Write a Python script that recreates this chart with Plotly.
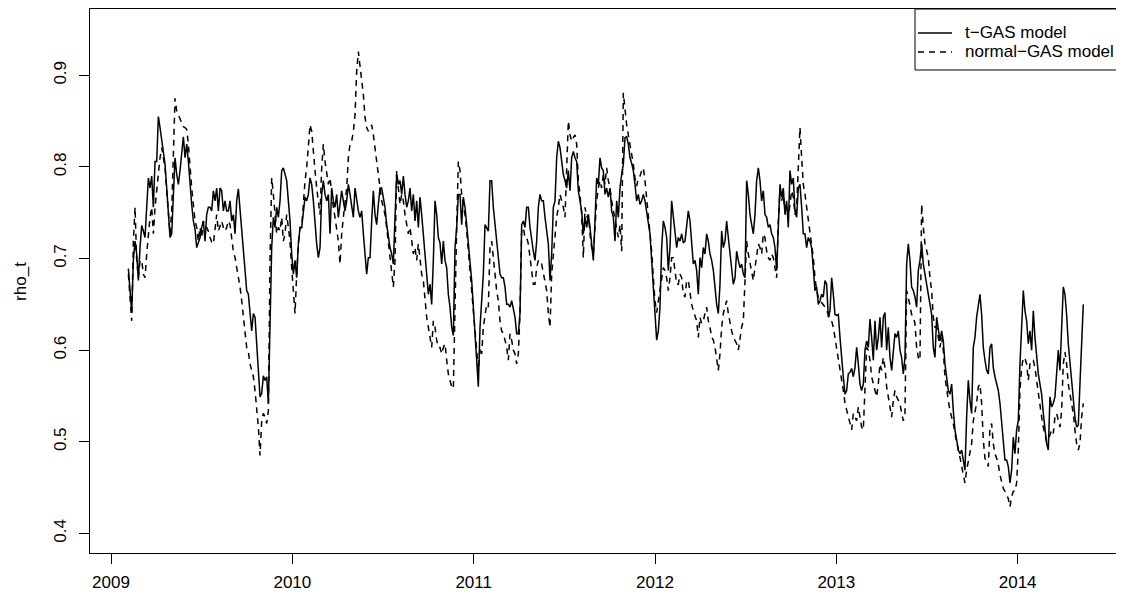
import numpy as np
import plotly.graph_objects as go

start_year = 2009.0956
step = 0.009191  # years between samples

t_gas = [
    .689, .661, .641, .698, .719, .705, .676, .712, .736, .730,
    .723, .756, .788, .777, .790, .756, .806, .806, .855, .843,
    .828, .815, .803, .777, .750, .723, .727, .777, .810, .792,
    .781, .796, .817, .833, .810, .825, .806, .777, .759, .741,
    .732, .712, .719, .723, .734, .741, .719, .748, .756, .756,
    .752, .774, .763, .777, .752, .777, .774, .752, .763, .752,
    .752, .763, .741, .748, .727, .763, .776, .752, .737, .712,
    .687, .665, .661, .640, .621, .640, .636, .607, .574, .549,
    .553, .572, .567, .571, .542,
    .643, .712, .745, .734, .756, .745, .763, .796, .799, .792,
    .785, .763, .741, .705, .683, .698, .679, .716, .734, .734,
    .752, .767, .763, .770, .788, .781, .763, .734, .716, .701,
    .712, .770, .785, .770, .763, .770, .727, .777, .763, .756,
    .770, .745, .759, .774, .763, .752, .763, .781, .770, .759,
    .745, .777, .763, .752, .745, .752, .727, .701, .683, .701,
    .701, .741, .774, .748, .737, .759, .777, .777, .767, .756,
    .737, .723, .712, .705, .694, .745, .792, .781, .785, .770,
    .790, .770, .756, .763, .777, .752, .770, .741, .763, .734,
    .767, .748, .727, .701, .683, .661, .672, .650, .698, .763,
    .748, .723,
    .717, .694, .719, .698, .690, .661, .647, .625, .616, .712,
    .734, .770, .770, .737, .767, .756, .737, .719, .701, .676,
    .647, .618, .581, .560, .625, .650, .683, .737, .734, .730,
    .785, .785, .756, .737, .716, .698, .683, .679, .679, .669,
    .650, .650, .647, .654, .643, .636, .618, .618, .640, .737,
    .741, .734, .756, .756, .734, .719, .708, .698, .719, .756,
    .770, .763, .763, .745, .727, .716, .676, .705, .756, .763,
    .810, .828, .821, .803, .792, .785, .777, .796, .774, .810,
    .817, .810, .806, .774, .763, .752, .727, .745, .734, .748,
    .734, .719, .698, .741, .788, .781, .810, .799, .796, .770,
    .777, .767,
    .777, .752, .745, .719, .763, .745, .777, .792, .803, .832,
    .833, .825, .810, .804, .796, .781, .763, .770, .759, .763,
    .770, .763, .752, .737, .727, .698, .665, .636, .611, .621,
    .647, .712, .741, .734, .723, .687, .712, .763, .745, .727,
    .712, .723, .719, .727, .717, .719, .737, .752, .741, .716,
    .694, .698, .687, .661, .701, .690, .712, .705, .727, .719,
    .705, .698, .687, .669, .650, .640, .672, .730, .712, .719,
    .741, .723, .705, .690, .672, .679, .708, .698, .690, .694,
    .683, .679, .785, .770, .748, .737, .727, .748, .785, .799,
    .785, .763, .774, .748, .745, .734, .737, .727, .723, .712,
    .687, .734,
    .781, .767, .777, .748, .763, .734, .796, .781, .788, .752,
    .745, .777, .781, .756, .727, .727, .712, .723, .719, .712,
    .687, .665, .669, .650, .654, .661, .658, .676, .672, .636,
    .643, .679, .661, .639, .638, .639, .614, .589, .571, .552,
    .556, .574, .576, .580, .571, .581, .603, .585, .563, .556,
    .563, .600, .610, .603, .634, .614, .589, .632, .600, .614,
    .636, .603, .636, .641, .600, .625, .592, .578, .596, .618,
    .614, .621, .600, .592, .574, .592, .694, .716, .698, .669,
    .665, .658, .647, .687, .698, .716, .694, .683, .672, .661,
    .654, .639, .603, .592, .636, .621, .610, .621, .610, .585,
    .567, .556,
    .552, .563, .534, .513, .502, .491, .487, .491, .480, .469,
    .527, .567, .545, .531, .603, .614, .636, .647, .661, .639,
    .603, .589, .578, .574, .603, .607, .581, .571, .563, .556,
    .542, .520, .498, .480, .480, .473, .455, .469, .505, .487,
    .513, .523, .585, .636, .665, .643, .632, .607, .621, .600,
    .643, .614, .592, .574, .563, .552, .531, .516, .498, .491,
    .549, .538, .542, .549, .581, .600, .578, .629, .669, .661,
    .639, .607, .585, .571, .549, .527, .516, .518, .563, .603,
    .650,
]

normal_gas = [
    .683, .661, .632, .719, .756, .698, .679, .698, .698, .683,
    .679, .705, .727, .745, .756, .727, .756, .777, .796, .810,
    .821, .810, .799, .774, .752, .727, .752, .825, .875, .861,
    .857, .852, .848, .844, .843, .841, .825, .799, .777, .759,
    .741, .734, .719, .734, .723, .741, .734, .734, .730, .723,
    .718, .716, .734, .748, .730, .737, .741, .734, .730, .734,
    .741, .737, .719, .708, .701, .690, .683, .669, .654, .636,
    .618, .603, .598, .585, .578, .571, .556, .538, .516, .485,
    .523, .531, .527, .520, .534,
    .698, .788, .770, .748, .727, .734, .730, .745, .719, .727,
    .748, .734, .719, .690, .661, .640, .683, .716, .734, .734,
    .759, .785, .799, .825, .846, .839, .814, .796, .777, .763,
    .748, .799, .825, .806, .792, .781, .788, .770, .756, .745,
    .734, .719, .694, .727, .745, .759, .777, .810, .825, .828,
    .839, .857, .904, .926, .912, .893, .879, .854, .843, .839,
    .843, .846, .835, .821, .806, .796, .777, .763, .756, .748,
    .734, .719, .705, .690, .669, .698, .796, .777, .759, .770,
    .763, .748, .737, .727, .734, .719, .705, .712, .698, .716,
    .698, .683, .676, .654, .636, .625, .611, .603, .632, .625,
    .611, .603,
    .603, .596, .603, .607, .589, .574, .567, .560, .558, .661,
    .734, .806, .796, .770, .759, .748, .730, .708, .683, .661,
    .640, .618, .600, .578, .603, .596, .625, .640, .650, .647,
    .712, .719, .698, .683, .665, .654, .632, .621, .618, .611,
    .603, .589, .618, .611, .600, .596, .585, .596, .640, .730,
    .734, .723, .723, .716, .701, .690, .672, .672, .690, .698,
    .694, .694, .683, .676, .665, .640, .625, .683, .705, .727,
    .745, .756, .770, .763, .756, .745, .796, .850, .835, .828,
    .832, .835, .825, .785, .770, .748, .701, .756, .745, .748,
    .727, .712, .705, .734, .763, .777, .785, .777, .792, .781,
    .799, .785,
    .777, .763, .752, .745, .730, .723, .737, .708, .881, .861,
    .846, .835, .825, .814, .803, .788, .779, .788, .790, .796,
    .799, .785, .767, .748, .730, .708, .679, .654, .641, .654,
    .665, .676, .690, .687, .679, .665, .679, .701, .701, .687,
    .672, .672, .683, .679, .661, .658, .676, .676, .661, .650,
    .643, .638, .632, .614, .636, .629, .632, .640, .647, .632,
    .625, .614, .611, .603, .592, .578, .596, .625, .640, .647,
    .654, .640, .629, .621, .614, .611, .607, .600, .614, .625,
    .632, .669, .719, .705, .694, .683, .676, .690, .701, .716,
    .712, .705, .727, .723, .708, .701, .698, .705, .701, .690,
    .679, .741,
    .774, .763, .770, .752, .756, .745, .763, .774, .767, .748,
    .756, .796, .843, .810, .781, .770, .756, .745, .734, .719,
    .701, .679, .665, .658, .654, .652, .650, .647, .643, .639,
    .636, .632, .625, .614, .600, .592, .581, .571, .556, .542,
    .534, .527, .520, .513, .531, .527, .523, .538, .527, .516,
    .513, .556, .603, .600, .589, .571, .563, .556, .549, .563,
    .585, .578, .592, .581, .560, .549, .538, .527, .545, .556,
    .549, .545, .542, .531, .523, .531, .665, .658, .650, .639,
    .636, .629, .603, .592, .589, .759, .734, .716, .709, .701,
    .679, .665, .636, .625, .625, .614, .603, .614, .600, .571,
    .556, .545,
    .534, .527, .520, .509, .498, .491, .483, .473, .462, .455,
    .469, .480, .487, .498, .523, .531, .542, .560, .563, .542,
    .502, .482, .478, .473, .516, .520, .498, .487, .482, .475,
    .464, .455, .449, .446, .442, .438, .429, .440, .446, .446,
    .455, .491, .556, .581, .592, .591, .585, .567, .585, .589,
    .589, .581, .567, .552, .538, .527, .516, .509, .500, .502,
    .509, .513, .509, .527, .531, .523, .516, .534, .585, .598,
    .585, .563, .552, .542, .531, .513, .498, .491, .498, .527,
    .542,
]

series_names = ["t\u2212GAS model", "normal\u2212GAS model"]
year_ticks = [2009, 2010, 2011, 2012, 2013, 2014]
rho_ticks = [0.4, 0.5, 0.6, 0.7, 0.8, 0.9]

t = start_year + step * np.arange(len(t_gas))
font = "Liberation Sans, Arial, Helvetica, sans-serif"
dash = "6px,5px"

fig = go.Figure()
fig.add_trace(go.Scatter(x=t, y=t_gas, mode="lines", name=series_names[0],
                         line=dict(color="black", width=1.5), showlegend=False))
fig.add_trace(go.Scatter(x=t, y=normal_gas, mode="lines", name=series_names[1],
                         line=dict(color="black", width=1.5, dash=dash), showlegend=False))

# automargin off, otherwise the template shrinks the plot to fit the tick labels
axis_style = dict(showgrid=False, zeroline=False, showline=True, mirror=True,
                  linecolor="black", linewidth=1, ticks="outside", ticklen=10,
                  tickcolor="black", tickfont=dict(size=17, color="black"),
                  automargin=False)

fig.update_xaxes(range=[2008.884, 2014.570], tickvals=year_ticks,
                 ticktext=[str(y) for y in year_ticks], ticklabelstandoff=4, **axis_style)
fig.update_yaxes(range=[0.3786, 0.9724], tickvals=rho_ticks,
                 ticktext=[f"{v:.1f}" for v in rho_ticks], tickangle=-90,
                 ticklabelstandoff=6, **axis_style)

# R-style boxed legend drawn by hand (tighter rows than plotly's legend)
fig.add_shape(type="rect", xref="paper", yref="paper", x0=0.8002, x1=1.0, y0=0.8879, y1=1.0,
              line=dict(color="black", width=1), layer="below")
for name, row_y, style in [(series_names[0], 0.9559, "solid"), (series_names[1], 0.9210, dash)]:
    fig.add_shape(type="line", xref="paper", yref="paper", x0=0.8031, x1=0.8361,
                  y0=row_y, y1=row_y, line=dict(color="black", width=1.5, dash=style))
    fig.add_annotation(text=name, xref="paper", yref="paper", x=0.8468, y=row_y,
                       xanchor="left", yanchor="middle", showarrow=False,
                       font=dict(size=17, color="black"))

fig.add_annotation(text="rho_t", xref="paper", yref="paper", x=-0.068, y=0.5,
                   xanchor="center", yanchor="middle", textangle=-90, showarrow=False,
                   font=dict(size=17, color="black"))

# the page body has an 8px margin, so the figure is shrunk to fit the window
fig.update_layout(
    width=1116, height=586,
    margin=dict(l=82, r=3, t=1, b=41),
    paper_bgcolor="white", plot_bgcolor="white",
    font=dict(family=font, size=17, color="black"),
)

fig.write_html("out.html")
